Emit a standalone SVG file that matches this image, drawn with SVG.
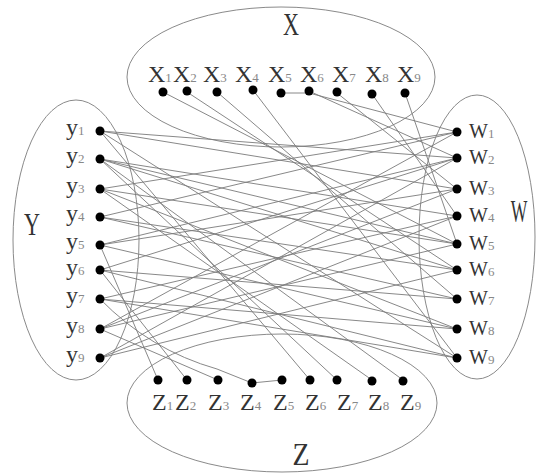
<svg xmlns="http://www.w3.org/2000/svg" width="536" height="473" viewBox="0 0 536 473">
  <style>
    .set { fill: none; stroke: #8a8a8a; stroke-width: 1; }
    .edge { fill: none; stroke: #7a7a7a; stroke-width: 0.9; }
    .dot { fill: #000; }
    .lab { font-family: "Liberation Serif", "DejaVu Serif", serif; font-size: 24px; fill: #333; }
    .ylab { font-size: 24px; }
    .wlab { font-size: 20px; }
    .sub { font-size: 13px; fill: #888; }
    .big { font-family: "Liberation Serif", "DejaVu Serif", serif; font-size: 32px; fill: #333; }
  </style>
  <rect width="536" height="473" fill="#fff"/>

  <!-- the four vertex classes -->
  <g id="sets">
    <ellipse class="set" cx="281" cy="77" rx="154" ry="70"/>
    <ellipse class="set" cx="76" cy="240" rx="63" ry="140"/>
    <ellipse class="set" cx="477" cy="237" rx="58" ry="142"/>
    <ellipse class="set" cx="282" cy="403" rx="155" ry="69"/>
  </g>

  <!-- edges -->
  <g id="edges">
    <!-- X to W -->
    <path class="edge" d="M281 93 L309 93 L457 132"/>
    <line class="edge" x1="163" y1="92" x2="457" y2="244"/>
    <line class="edge" x1="187" y1="92" x2="457" y2="270"/>
    <line class="edge" x1="217" y1="92" x2="457" y2="299"/>
    <line class="edge" x1="253" y1="90" x2="457" y2="358"/>
    <line class="edge" x1="309" y1="91" x2="457" y2="158"/>
    <line class="edge" x1="337" y1="93" x2="457" y2="189"/>
    <line class="edge" x1="372" y1="94" x2="457" y2="216"/>
    <line class="edge" x1="405" y1="93" x2="457" y2="244"/>
    <!-- Y to Z -->
    <line class="edge" x1="100" y1="131" x2="310" y2="380"/>
    <line class="edge" x1="100" y1="159" x2="337" y2="380"/>
    <line class="edge" x1="100" y1="189" x2="372" y2="380"/>
    <line class="edge" x1="100" y1="159" x2="403" y2="380"/>
    <line class="edge" x1="100" y1="245" x2="158" y2="380"/>
    <line class="edge" x1="100" y1="270" x2="187" y2="380"/>
    <line class="edge" x1="100" y1="329" x2="218" y2="380"/>
    <path class="edge" d="M100 299 Q150 350 217 369 L252 383 L282 380"/>
    <!-- Y to W -->
    <line class="edge" x1="100" y1="131" x2="457" y2="158"/>
    <line class="edge" x1="100" y1="131" x2="457" y2="189"/>
    <line class="edge" x1="100" y1="131" x2="457" y2="358"/>
    <line class="edge" x1="100" y1="159" x2="457" y2="216"/>
    <line class="edge" x1="100" y1="159" x2="457" y2="244"/>
    <line class="edge" x1="100" y1="159" x2="457" y2="270"/>
    <line class="edge" x1="100" y1="189" x2="457" y2="132"/>
    <line class="edge" x1="100" y1="189" x2="457" y2="244"/>
    <line class="edge" x1="100" y1="189" x2="457" y2="329"/>
    <line class="edge" x1="100" y1="217" x2="457" y2="132"/>
    <line class="edge" x1="100" y1="217" x2="457" y2="270"/>
    <line class="edge" x1="100" y1="217" x2="457" y2="299"/>
    <line class="edge" x1="100" y1="245" x2="457" y2="158"/>
    <line class="edge" x1="100" y1="245" x2="457" y2="189"/>
    <line class="edge" x1="100" y1="245" x2="457" y2="329"/>
    <line class="edge" x1="100" y1="270" x2="457" y2="158"/>
    <line class="edge" x1="100" y1="270" x2="457" y2="299"/>
    <line class="edge" x1="100" y1="270" x2="457" y2="358"/>
    <line class="edge" x1="100" y1="299" x2="457" y2="216"/>
    <line class="edge" x1="100" y1="299" x2="457" y2="329"/>
    <line class="edge" x1="100" y1="299" x2="457" y2="358"/>
    <line class="edge" x1="100" y1="329" x2="457" y2="132"/>
    <line class="edge" x1="100" y1="329" x2="457" y2="189"/>
    <line class="edge" x1="100" y1="329" x2="457" y2="244"/>
    <line class="edge" x1="100" y1="358" x2="457" y2="158"/>
    <line class="edge" x1="100" y1="358" x2="457" y2="216"/>
    <line class="edge" x1="100" y1="358" x2="457" y2="270"/>
  </g>

  <!-- class labels -->
  <g id="set-labels">
    <text class="big" x="291" y="35" text-anchor="middle" textLength="16" lengthAdjust="spacingAndGlyphs">X</text>
    <text class="big" x="32" y="235" text-anchor="middle" textLength="16" lengthAdjust="spacingAndGlyphs">Y</text>
    <text class="big" transform="translate(519 222) scale(0.55 1)" text-anchor="middle" font-size="28">W</text>
    <text class="big" x="301" y="465" text-anchor="middle" textLength="17" lengthAdjust="spacingAndGlyphs">Z</text>
  </g>

  <!-- X vertices -->
  <g id="x1"><circle class="dot" cx="163" cy="92" r="4.5"/><text class="lab" x="148" y="82">X<tspan class="sub">1</tspan></text></g>
  <g id="x2"><circle class="dot" cx="187" cy="91" r="4.5"/><text class="lab" x="173" y="82">X<tspan class="sub">2</tspan></text></g>
  <g id="x3"><circle class="dot" cx="217" cy="92" r="4.5"/><text class="lab" x="203" y="82">X<tspan class="sub">3</tspan></text></g>
  <g id="x4"><circle class="dot" cx="253" cy="90" r="4.5"/><text class="lab" x="235" y="82">X<tspan class="sub">4</tspan></text></g>
  <g id="x5"><circle class="dot" cx="281" cy="93" r="4.5"/><text class="lab" x="268" y="82">X<tspan class="sub">5</tspan></text></g>
  <g id="x6"><circle class="dot" cx="309" cy="91" r="4.5"/><text class="lab" x="300" y="82">X<tspan class="sub">6</tspan></text></g>
  <g id="x7"><circle class="dot" cx="337" cy="92" r="4.5"/><text class="lab" x="332" y="82">X<tspan class="sub">7</tspan></text></g>
  <g id="x8"><circle class="dot" cx="372" cy="94" r="4.5"/><text class="lab" x="365" y="82">X<tspan class="sub">8</tspan></text></g>
  <g id="x9"><circle class="dot" cx="405" cy="93" r="4.5"/><text class="lab" x="397" y="82">X<tspan class="sub">9</tspan></text></g>

  <!-- Y vertices -->
  <g id="y1"><circle class="dot" cx="100" cy="131" r="4.5"/><text class="lab ylab" x="66" y="135">y<tspan class="sub">1</tspan></text></g>
  <g id="y2"><circle class="dot" cx="100" cy="159" r="4.5"/><text class="lab ylab" x="66" y="163">y<tspan class="sub">2</tspan></text></g>
  <g id="y3"><circle class="dot" cx="100" cy="189" r="4.5"/><text class="lab ylab" x="66" y="193">y<tspan class="sub">3</tspan></text></g>
  <g id="y4"><circle class="dot" cx="100" cy="217" r="4.5"/><text class="lab ylab" x="66" y="221">y<tspan class="sub">4</tspan></text></g>
  <g id="y5"><circle class="dot" cx="100" cy="245" r="4.5"/><text class="lab ylab" x="66" y="249">y<tspan class="sub">5</tspan></text></g>
  <g id="y6"><circle class="dot" cx="100" cy="270" r="4.5"/><text class="lab ylab" x="66" y="275">y<tspan class="sub">6</tspan></text></g>
  <g id="y7"><circle class="dot" cx="100" cy="299" r="4.5"/><text class="lab ylab" x="66" y="303">y<tspan class="sub">7</tspan></text></g>
  <g id="y8"><circle class="dot" cx="100" cy="329" r="4.5"/><text class="lab ylab" x="66" y="333">y<tspan class="sub">8</tspan></text></g>
  <g id="y9"><circle class="dot" cx="100" cy="358" r="4.5"/><text class="lab ylab" x="66" y="362">y<tspan class="sub">9</tspan></text></g>

  <!-- W vertices -->
  <g id="w1"><circle class="dot" cx="457" cy="132" r="4.5"/><text class="lab wlab" x="469" y="138">W<tspan class="sub">1</tspan></text></g>
  <g id="w2"><circle class="dot" cx="457" cy="158" r="4.5"/><text class="lab wlab" x="469" y="164">W<tspan class="sub">2</tspan></text></g>
  <g id="w3"><circle class="dot" cx="457" cy="189" r="4.5"/><text class="lab wlab" x="469" y="195">W<tspan class="sub">3</tspan></text></g>
  <g id="w4"><circle class="dot" cx="457" cy="216" r="4.5"/><text class="lab wlab" x="469" y="222">W<tspan class="sub">4</tspan></text></g>
  <g id="w5"><circle class="dot" cx="457" cy="244" r="4.5"/><text class="lab wlab" x="469" y="250">W<tspan class="sub">5</tspan></text></g>
  <g id="w6"><circle class="dot" cx="457" cy="270" r="4.5"/><text class="lab wlab" x="469" y="276">W<tspan class="sub">6</tspan></text></g>
  <g id="w7"><circle class="dot" cx="457" cy="299" r="4.5"/><text class="lab wlab" x="469" y="305">W<tspan class="sub">7</tspan></text></g>
  <g id="w8"><circle class="dot" cx="457" cy="329" r="4.5"/><text class="lab wlab" x="469" y="335">W<tspan class="sub">8</tspan></text></g>
  <g id="w9"><circle class="dot" cx="457" cy="358" r="4.5"/><text class="lab wlab" x="469" y="364">W<tspan class="sub">9</tspan></text></g>

  <!-- Z vertices -->
  <g id="z1"><circle class="dot" cx="158" cy="380" r="4.5"/><text class="lab" x="152" y="410">Z<tspan class="sub">1</tspan></text></g>
  <g id="z2"><circle class="dot" cx="187" cy="380" r="4.5"/><text class="lab" x="175" y="410">Z<tspan class="sub">2</tspan></text></g>
  <g id="z3"><circle class="dot" cx="218" cy="380" r="4.5"/><text class="lab" x="208" y="410">Z<tspan class="sub">3</tspan></text></g>
  <g id="z4"><circle class="dot" cx="252" cy="383" r="4.5"/><text class="lab" x="240" y="410">Z<tspan class="sub">4</tspan></text></g>
  <g id="z5"><circle class="dot" cx="282" cy="380" r="4.5"/><text class="lab" x="273" y="410">Z<tspan class="sub">5</tspan></text></g>
  <g id="z6"><circle class="dot" cx="310" cy="380" r="4.5"/><text class="lab" x="305" y="410">Z<tspan class="sub">6</tspan></text></g>
  <g id="z7"><circle class="dot" cx="337" cy="380" r="4.5"/><text class="lab" x="337" y="410">Z<tspan class="sub">7</tspan></text></g>
  <g id="z8"><circle class="dot" cx="372" cy="381" r="4.5"/><text class="lab" x="368" y="410">Z<tspan class="sub">8</tspan></text></g>
  <g id="z9"><circle class="dot" cx="403" cy="381" r="4.5"/><text class="lab" x="400" y="410">Z<tspan class="sub">9</tspan></text></g>
</svg>
